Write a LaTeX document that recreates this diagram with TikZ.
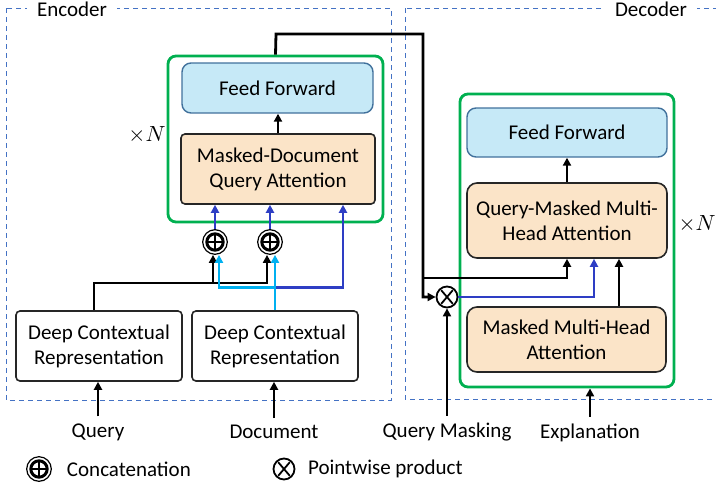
\documentclass[tikz,border=0pt]{standalone}
\usepackage{fontspec}
\setmainfont{Carlito}
\usetikzlibrary{positioning, arrows.meta, calc}
\definecolor{dashblue}{RGB}{68,114,196}
\definecolor{stackgreen}{RGB}{0,176,80}
\definecolor{fffill}{RGB}{198,233,247}
\definecolor{ffborder}{RGB}{65,113,156}
\definecolor{peach}{RGB}{251,228,200}
\definecolor{darkblue}{RGB}{46,62,196}
\definecolor{lightblue}{RGB}{0,176,240}
\tikzset{
    >={Triangle[length=4pt,width=4pt]}, % small solid arrow heads
    every node/.style={font=\fontsize{10.5}{12.5}\selectfont},
    frame/.style={draw=dashblue, line width=0.5pt, dash pattern=on 2.5pt off 2pt},
    framelabel/.style={fill=white, inner xsep=5pt, inner ysep=1pt},
    stack/.style={draw=stackgreen, line width=1.4pt, rounded corners=4pt},
    ffbox/.style={draw=ffborder, fill=fffill, line width=0.7pt, rounded corners=4.5pt, align=center},
    attbox/.style={draw=black!85, fill=peach, line width=0.8pt, rounded corners=2pt, align=center},
    repbox/.style={draw=black!85, fill=white, line width=0.8pt, rounded corners=2pt, align=center},
    blk/.style={draw=black, line width=1.4pt},
    dblue/.style={draw=darkblue, line width=1.4pt},
    lblue/.style={draw=lightblue, line width=1.4pt},
    concat/.style={circle, draw, line width=0.6pt, minimum size=12.3pt, inner sep=0pt,
        path picture={
            \draw[line width=1.5pt] (path picture bounding box.center) circle (4.1pt);
            \draw[line width=1.1pt] (path picture bounding box.center) +(-3.5pt,0) -- +(3.5pt,0)
                (path picture bounding box.center) +(0,-3.5pt) -- +(0,3.5pt);
        }},
    pointwise/.style={circle, draw, line width=0.9pt, minimum size=10.5pt, inner sep=0pt,
        path picture={
            \draw[line width=0.9pt] (path picture bounding box.center) +(-2.9pt,-3.4pt) -- +(2.9pt,3.4pt)
                (path picture bounding box.center) +(-2.9pt,3.4pt) -- +(2.9pt,-3.4pt);
        }},
}

\begin{document}
\begin{tikzpicture}[x=0.5pt, y=-0.5pt]
    \useasboundingbox (0,0) rectangle (716,487);

    % encoder / decoder frames
    \draw[frame] (6,8) rectangle (391,400);
    \draw[frame] (405,8) rectangle (724,399);
    \node[framelabel] (enclabel) at (72,9) {Encoder};
    \node[framelabel] (declabel) at (651,9) {Decoder};

    % encoder
    \node[stack, minimum width=107.5pt, minimum height=83pt] (encstack) at (275.5,139) {};
    \node[ffbox, minimum width=95.5pt, minimum height=25pt] (encff) at (277.5,88) {Feed Forward};
    \node[attbox, minimum width=97pt, minimum height=35pt] (mdqa) at (278,169) {Masked-Document\\Query Attention};
    \node (encn) at (147,135) {$\times N$};
    \node[concat] (cat1) at (215,242) {};
    \node[concat] (cat2) at (270,242) {};
    \node[repbox, minimum width=83pt, minimum height=35pt] (dcr1) at (99,346) {Deep Contextual\\Representation};
    \node[repbox, minimum width=83pt, minimum height=35pt] (dcr2) at (275,346) {Deep Contextual\\Representation};

    % decoder
    \node[stack, minimum width=107pt, minimum height=146.5pt] (decstack) at (567,240.5) {};
    \node[ffbox, minimum width=100pt, minimum height=24.5pt] (decff) at (567,132.5) {Feed Forward};
    \node[attbox, rounded corners=5pt, minimum width=100pt, minimum height=37.5pt] (qmmha) at (567,220.5) {Query-Masked Multi-\\Head Attention};
    \node[attbox, rounded corners=5pt, minimum width=99.5pt, minimum height=32.5pt] (mmha) at (566.5,339.5) {Masked Multi-Head\\Attention};
    \node (decn) at (697,224) {$\times N$};
    \node[pointwise] (mul) at (447,297) {};

    % inputs
    \node (query) at (98,432) {Query};
    \node (doc) at (274,432) {Document};
    \node (qmask) at (447,432) {Query Masking};
    \node (expl) at (590,433) {Explanation};

    % legend
    \node[concat] (legcat) at (39,469) {};
    \node[right=4pt of legcat] (legcattext) {Concatenation};
    \node[pointwise] (legmul) at (284,469) {};
    \node[right=2.8pt of legmul] (legmultext) {Pointwise product};

    % encoder connections
    \draw[blk,->] (query.north) -- (query.north |- dcr1.south);
    \draw[blk,->] (doc.north) -- (doc.north |- dcr2.south);
    \draw[blk,->] ($(dcr1.north)+(-5,0)$) |- ($(cat2.south)+(-3,28)$) -- ($(cat2.south)+(-3,0)$);
    \draw[blk,->] ($(cat1.south)+(-2,28)$) -- ($(cat1.south)+(-2,0)$);
    \draw[dblue,->] ($(dcr2.north)+(0,-23)$) -| ($(mdqa.south)+(65,0)$);
    \draw[lblue,->] (dcr2.north) -- (dcr2.north |- cat2.south);
    \draw[lblue,->] ($(dcr2.north)+(0,-23)$) -| ($(cat1.south)+(4,0)$);
    \draw[dblue,->] (cat1.north) -- (cat1.north |- mdqa.south);
    \draw[dblue,->] (cat2.north) -- (cat2.north |- mdqa.south);
    \draw[blk,->] (mdqa.north) -- (mdqa.north |- encff.south);

    % encoder to decoder
    \coordinate (lift) at (276,34);
    \coordinate (branch) at (423,278);
    \draw[blk,->] (encstack.north) -- (lift) -| (branch) |- (mul.west);
    \draw[blk,->] (branch) -| (qmmha.south);
    \draw[blk,->] (qmask.north) -- (mul.south);
    \draw[dblue,->] (mul.east) -| ($(qmmha.south)+(27,0)$);

    % decoder connections
    \draw[blk,->] ($(mmha.north)+(52.5,0)$) -- ($(qmmha.south)+(52,0)$);
    \draw[blk,->] (qmmha.north) -- (qmmha.north |- decff.south);
    \draw[blk,->] (expl.north) -- (expl.north |- decstack.south);
\end{tikzpicture}
\end{document}
